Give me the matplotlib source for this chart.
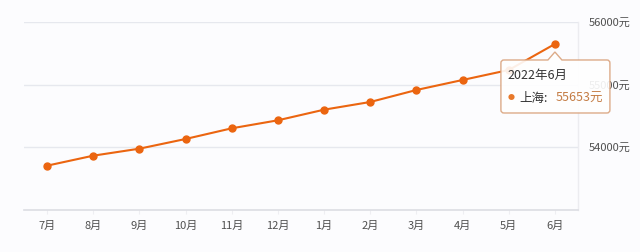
import matplotlib
matplotlib.use("Agg")
import matplotlib.pyplot as plt
from matplotlib.path import Path
from matplotlib.patches import PathPatch
from matplotlib.transforms import IdentityTransform

plt.rcParams['font.family'] = ['Noto Sans CJK SC', 'DejaVu Sans']

months = ['7月', '8月', '9月', '10月', '11月', '12月', '1月', '2月', '3月', '4月', '5月', '6月']
prices = [53706, 53866, 53978, 54133, 54304, 54432, 54602, 54725, 54917, 55077, 55237, 55653]
ytick_vals = [54000, 55000, 56000]
ytick_labels = ['54000元', '55000元', '56000元']
tip_title = '2022年6月'
tip_series = '上海'
tip_value = '55653元'

bg = '#fcfcfe'
line_c = '#eb6510'

fig = plt.figure(figsize=(6.4, 2.52), dpi=100, facecolor=bg)
ax = fig.add_axes([24/640, 1 - 209.8/252, (578-24)/640, (209.8-22.3)/252])
ax.set_facecolor(bg)

x = list(range(len(months)))
ax.plot(x, prices, color=line_c, lw=1.5, marker='o', ms=5, mfc=line_c, mec=line_c, zorder=3)

ax.set_xlim(-0.5, len(months) - 0.5)
ax.set_ylim(53000, 56000)
for v in ytick_vals:
    ax.axhline(v, color='#e6e8ee', lw=1, zorder=1)

for s in ['left', 'top']:
    ax.spines[s].set_visible(False)
ax.spines['bottom'].set_color('#dcdde3')
ax.spines['bottom'].set_linewidth(1.2)
ax.spines['right'].set_color('#ececf0')
ax.spines['right'].set_linewidth(1)

ax.set_xticks(x)
ax.set_xticklabels(months)
ax.tick_params(axis='x', length=3, color='#eeeef2', pad=5, labelsize=8, labelcolor='#505050')
ax.yaxis.tick_right()
ax.set_yticks(ytick_vals)
ax.set_yticklabels(ytick_labels)
ax.tick_params(axis='y', length=0, pad=8, labelsize=8, labelcolor='#505050')

# tooltip
fig.canvas.draw()
px, py = ax.transData.transform((x[-1], prices[-1]))
L, R, T, B, r = px - 54, px + 55, py - 16, py - 69, 3
verts = [(L + r, T), (px - 7, T), (px, T + 8), (px + 7, T), (R - r, T),
         (R, T), (R, T - r), (R, B + r), (R, B), (R - r, B), (L + r, B),
         (L, B), (L, B + r), (L, T - r), (L, T), (L + r, T), (L + r, T)]
codes = [Path.MOVETO, Path.LINETO, Path.LINETO, Path.LINETO, Path.LINETO,
         Path.CURVE3, Path.CURVE3, Path.LINETO, Path.CURVE3, Path.CURVE3, Path.LINETO,
         Path.CURVE3, Path.CURVE3, Path.LINETO, Path.CURVE3, Path.CURVE3, Path.CLOSEPOLY]
tip = PathPatch(Path(verts, codes), transform=IdentityTransform(), facecolor='white',
                alpha=0.9, edgecolor='#d9a27c', lw=1, zorder=10, clip_on=False)
ax.add_artist(tip)

pt = (x[-1], prices[-1])
kw = dict(xy=pt, xycoords='data', textcoords='offset pixels', va='center', ha='left',
          zorder=11, annotation_clip=False)
ax.annotate(tip_title, xytext=(-47, -31), fontsize=9, color='#333333', **kw)
ax.annotate('●', xytext=(-47, -54), fontsize=5, color='#e8792b', **kw)
ax.annotate(tip_series + ':', xytext=(-36, -54), fontsize=9, color='#333333', **kw)
ax.annotate(tip_value, xytext=(1, -54), fontsize=9, color='#c47c44', **kw)

fig.savefig('out.png', dpi=100, facecolor=bg)
